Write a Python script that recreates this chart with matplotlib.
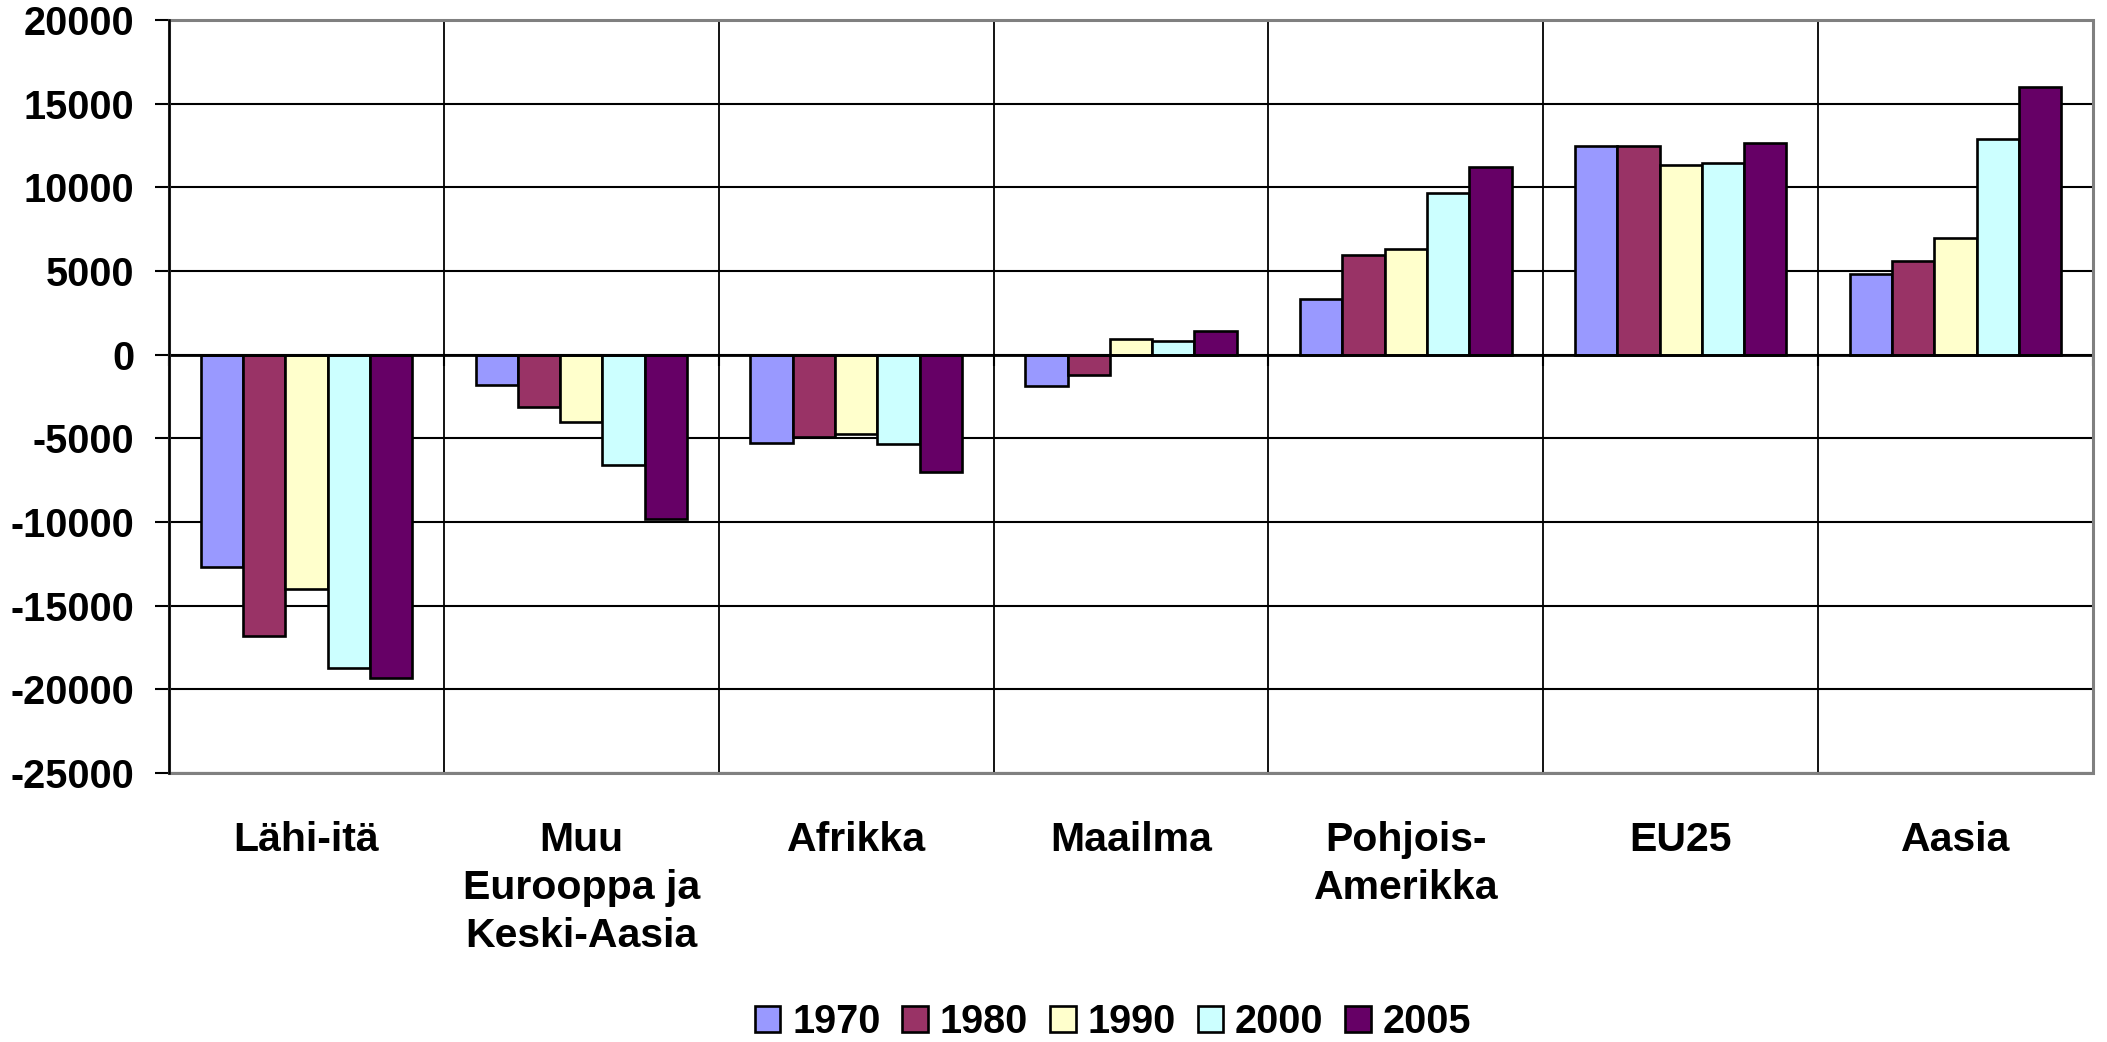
import matplotlib
matplotlib.use("Agg")
import matplotlib.pyplot as plt
import matplotlib.transforms as mtransforms
import numpy as np
from matplotlib.patches import Rectangle

plt.rcParams['font.family'] = ['Liberation Sans', 'DejaVu Sans']

categories = ["Lähi-itä", "Muu\nEurooppa ja\nKeski-Aasia", "Afrikka", "Maailma",
              "Pohjois-\nAmerikka", "EU25", "Aasia"]
years = ["1970", "1980", "1990", "2000", "2005"]
v1970 = [-12700, -1800, -5300, -1900, 3350, 12500, 4800]
v1980 = [-16800, -3100, -4900, -1200, 5950, 12500, 5600]
v1990 = [-14000, -4000, -4750, 950, 6300, 11350, 7000]
v2000 = [-18700, -6600, -5350, 800, 9650, 11450, 12900]
v2005 = [-19300, -9800, -7000, 1400, 11200, 12650, 16000]
series = [v1970, v1980, v1990, v2000, v2005]
colors = ["#9999FF", "#993366", "#FFFFCC", "#CCFFFF", "#660066"]
yticks = [20000, 15000, 10000, 5000, 0, -5000, -10000, -15000, -20000, -25000]

W, H = 2107, 1042
fig = plt.figure(figsize=(W / 100, H / 100), dpi=100)
left, right, top, bottom = 169 / W, 2093 / W, 1 - 20 / H, 1 - 773 / H
ax = fig.add_axes([left, bottom, right - left, top - bottom])

n = len(categories)
x = np.arange(n)
bw = 1 / 6.5
for i, (vals, c, lab) in enumerate(zip(series, colors, years)):
    ax.bar(x + (i - 2) * bw, vals, width=bw, color=c, edgecolor="black",
           linewidth=1.9, label=lab, zorder=3)

ax.set_xlim(-0.5, n - 0.5)
ax.set_ylim(-25000, 20000)
ax.set_yticks(yticks)
ax.set_yticklabels([str(t) for t in yticks], fontsize=28.5, fontweight="bold")
ax.tick_params(axis="y", direction="out", length=10, width=1.5, pad=15, color="black")

ax.yaxis.grid(True, color="black", linewidth=1.5, zorder=0)
for b in np.arange(n + 1) - 0.5:
    ax.axvline(b, color="black", linewidth=1.3, zorder=1)

ax.spines["bottom"].set_position(("data", 0))
ax.spines["bottom"].set_linewidth(2)
ax.spines["bottom"].set_zorder(4)
ax.set_xticks(np.arange(n + 1) - 0.5)
ax.set_xticklabels([])
ax.tick_params(axis="x", direction="out", length=8, width=1.5)
ax.spines["left"].set_linewidth(1.8)
ax.spines["left"].set_color("black")
for s in ["top", "right"]:
    ax.spines[s].set_visible(False)
ax.add_patch(Rectangle((0, 0), 1, 1, transform=ax.transAxes, fill=False,
                       edgecolor="#808080", linewidth=2.2, zorder=5, clip_on=False))
ax.spines["left"].set_zorder(6)

trans = mtransforms.blended_transform_factory(ax.transData, fig.transFigure)
for xi, cat in zip(x, categories):
    ax.text(xi, 1 - 821 / H, cat, transform=trans,
            ha="center", va="top", fontsize=29.5, fontweight="bold", linespacing=1.33)

leg = fig.legend(loc="center", bbox_to_anchor=(1113 / W, 1 - 1022 / H), ncol=5,
                 frameon=False, prop={"size": 28.5, "weight": "bold"},
                 handlelength=0.65, handleheight=0.65, handletextpad=0.3,
                 columnspacing=0.55, borderaxespad=0, borderpad=0.1)

ax.set_facecolor("white")
fig.savefig("out.png", dpi=100, facecolor="white")
